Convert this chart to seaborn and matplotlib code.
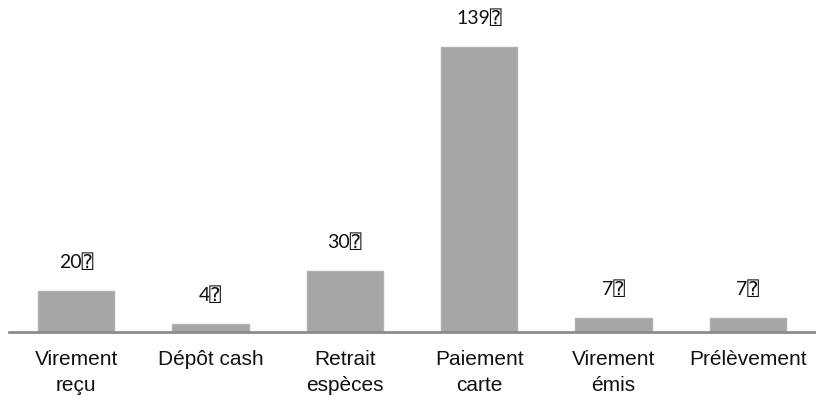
import matplotlib
matplotlib.use("Agg")
import matplotlib.pyplot as plt
import pandas as pd
import seaborn as sns

categories = ["Virement\nreçu", "Dépôt cash", "Retrait\nespèces",
              "Paiement\ncarte", "Virement\némis", "Prélèvement"]
values = [20, 4, 30, 139, 7, 7]
value_labels = ["20⍰", "4⍰", "30⍰", "139⍰", "7⍰", "7⍰"]

sns.set_theme(style="white")
plt.rcParams["font.family"] = ["Liberation Sans Narrow", "Liberation Sans",
                               "DejaVu Sans"]

df = pd.DataFrame({"cat": categories, "val": values})

fig = plt.figure(figsize=(8.16, 4.05), dpi=100)
ax = fig.add_axes([9 / 816, 73 / 405, 806 / 816, 332 / 405])

sns.barplot(data=df, x="cat", y="val", color="#a6a6a6", saturation=1,
            width=0.57, edgecolor="#b0b0b0", linewidth=1, ax=ax)

for i, (v, lab) in enumerate(zip(values, value_labels)):
    ax.text(i, v + 14, lab, ha="center", va="center", fontsize=14,
            color="#111111",
            family=["Lato", "DejaVu Sans", "DejaVu Sans Mono"])

ax.set_xlim(-0.5, 5.5)
ax.set_ylim(0, 162)
ax.set_xlabel("")
ax.set_ylabel("")
ax.set_yticks([])
ax.tick_params(axis="x", length=0, labelsize=15, pad=13, colors="#111111")
for lab in ax.get_xticklabels():
    lab.set_linespacing(1.45)
for s in ["top", "right", "left"]:
    ax.spines[s].set_visible(False)
ax.spines["bottom"].set_color("#8c8c8c")
ax.spines["bottom"].set_linewidth(2)
ax.spines["bottom"].set_zorder(5)

fig.savefig("out.png", dpi=100)
